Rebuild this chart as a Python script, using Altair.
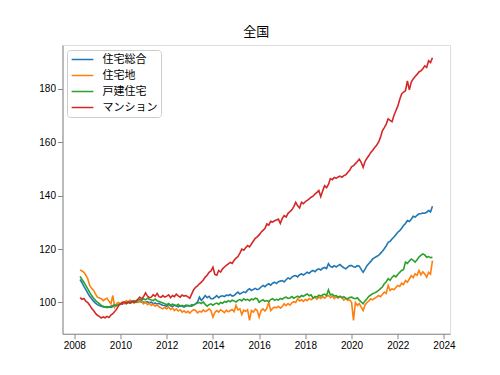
import altair as alt
import pandas as pd

START_YEAR = 2008
START_MONTH = 4

series_names = ["住宅総合", "住宅地", "戸建住宅", "マンション"]
series_colors = ["#1f77b4", "#ff7f0e", "#2ca02c", "#d62728"]

sogo = [
    108.6, 107.4, 106.0, 104.8, 103.5, 102.3, 101.4, 100.5, 99.8,
    99.2, 98.9, 98.6, 98.3, 98.4, 98.1, 98.3, 98.2, 98.5, 98.6, 98.9, 99.2,
    99.5, 99.4, 99.9, 99.6, 100.0, 99.8, 100.1, 100.3, 100.0, 100.2, 100.4, 100.1,
    100.2, 100.0, 100.3, 99.9, 100.1, 99.6, 99.8, 99.4, 99.7, 99.2, 99.0, 98.9,
    98.6, 99.3, 98.8, 98.5, 99.0, 98.7, 98.4, 98.8, 98.6, 98.3, 98.7, 98.9,
    98.8, 98.6, 99.1, 99.5, 100.2, 102.0, 100.8, 101.6, 102.6, 101.8, 102.3, 101.4,
    101.4, 101.9, 102.6, 101.8, 102.3, 102.5, 102.2, 102.8, 102.6, 103.0, 102.4, 102.6,
    103.3, 103.9, 103.2, 103.6, 104.0, 103.7, 104.6, 105.1, 104.5, 104.9, 105.3, 104.8,
    105.1, 105.8, 106.4, 105.9, 106.6, 107.0, 106.5, 107.2, 107.6, 107.1, 107.8, 108.0,
    108.2, 107.7, 108.5, 109.2, 108.8, 109.5, 109.9, 110.1, 109.6, 110.4, 110.7, 110.3,
    110.8, 111.3, 110.9, 111.6, 112.0, 111.5, 112.3, 112.6, 112.2, 112.8, 113.1, 112.7,
    114.5, 113.5, 113.2, 113.8, 113.3, 113.8, 114.2, 113.5, 113.0, 112.6, 113.2, 113.8,
    113.8, 113.4, 113.2, 113.8, 113.6, 112.4, 111.3, 112.5, 113.8, 114.6, 115.4, 116.3,
    116.8, 117.2, 117.6, 118.4, 119.2, 120.1, 121.2, 122.5, 122.9, 123.8, 124.5, 125.4,
    126.3, 126.9, 127.8, 128.8, 129.6, 130.7, 130.3, 131.2, 132.3, 132.0, 132.6, 133.2,
    133.2, 133.5, 133.4, 133.8, 134.4, 133.9, 136.0,
]

jutakuchi = [
    112.2, 111.8, 111.3, 110.2, 108.9, 106.4, 105.3, 104.5, 103.2,
    102.0, 101.7, 101.4, 100.7, 101.2, 101.6, 100.5, 99.5, 102.6, 98.3, 99.6, 100.0,
    99.4, 100.2, 99.6, 100.7, 100.1, 100.9, 100.3, 99.8, 100.5, 100.0, 100.6, 100.2,
    99.5, 100.1, 99.2, 99.7, 98.9, 99.4, 98.6, 99.1, 98.4, 98.0, 97.6, 98.2,
    97.6, 98.3, 97.4, 97.9, 97.0, 97.6, 96.8, 97.3, 96.4, 96.9, 96.2, 96.7,
    96.0, 96.8, 97.3, 97.0, 96.1, 96.7, 96.4, 97.2, 96.6, 97.0, 97.6, 96.9,
    94.5, 96.3, 97.0, 96.4, 97.3, 96.8, 96.2, 97.1, 96.5, 97.0, 97.4, 96.6,
    98.9, 97.2, 97.6, 95.5, 97.1, 96.7, 97.3, 93.3, 97.0, 96.4, 97.5, 97.0,
    94.5, 97.0, 97.6, 96.8, 97.8, 100.1, 97.0, 97.8, 98.3, 98.0, 98.6, 97.9,
    98.5, 99.5, 98.8, 99.6, 99.0, 99.9, 100.3, 100.0, 101.4, 100.6, 101.0, 100.4,
    101.2, 100.7, 101.5, 101.0, 101.6, 102.0, 101.3, 102.0, 101.5, 102.2, 101.6, 102.3,
    102.6, 101.8, 102.4, 101.5, 102.1, 101.6, 102.3, 101.8, 100.9, 101.5, 100.8, 101.0,
    100.1, 93.3, 100.0, 98.9, 99.6, 98.3, 97.0, 99.1, 100.0, 100.6, 101.4, 101.0,
    101.6, 102.0, 102.6, 102.2, 103.0, 103.9, 103.4, 106.4, 104.5, 105.1, 104.8, 105.6,
    106.4, 106.0, 107.2, 106.7, 108.2, 107.6, 108.8, 110.1, 109.3, 110.7, 110.2, 112.0,
    110.4, 111.5, 110.7, 109.5, 111.3, 110.6, 115.7,
]

kodate = [
    109.8, 108.6, 107.6, 106.3, 105.1, 103.8, 102.6, 101.6, 100.8,
    100.1, 99.6, 98.9, 98.6, 98.3, 98.5, 98.3, 98.6, 98.9, 99.1, 98.8, 99.2,
    99.6, 99.9, 100.1, 99.8, 100.3, 100.0, 100.5, 100.7, 100.2, 100.9, 101.1, 100.8,
    101.4, 101.0, 101.6, 101.2, 100.9, 100.7, 101.3, 100.6, 100.4, 100.1, 99.8, 99.5,
    99.2, 99.6, 99.0, 99.4, 99.1, 98.8, 99.3, 98.6, 98.9, 98.6, 99.0, 98.8,
    98.6, 99.2, 99.0, 99.5, 99.8, 100.0, 99.6, 100.2, 99.3, 98.6, 99.2, 99.5,
    99.0, 99.5, 99.8, 99.3, 100.0, 99.7, 100.4, 100.1, 100.7, 100.3, 100.9, 100.6,
    100.2, 100.8, 101.1, 100.6, 101.4, 100.9, 101.2, 100.7, 101.3, 101.0, 101.6, 101.4,
    100.1, 100.6, 101.0, 100.4, 100.7, 100.3, 101.1, 101.4, 100.8, 101.2, 100.9, 101.5,
    101.2, 101.8, 102.0, 101.5, 101.7, 102.2, 101.6, 102.0, 102.4, 101.9, 102.6, 102.3,
    102.8, 103.2, 102.5, 102.9, 101.6, 102.3, 102.0, 102.7, 102.4, 102.9, 103.1, 102.6,
    104.7, 102.8, 103.1, 102.4, 102.6, 102.0, 102.3, 101.8, 102.2, 101.6, 101.4, 101.9,
    102.0, 101.6, 101.4, 101.8, 100.9, 100.2, 99.5, 100.6, 101.4, 102.3, 102.8, 103.3,
    103.6, 104.0, 104.5, 105.2, 105.8, 107.0, 107.8, 108.9, 108.3, 109.4, 110.1, 109.6,
    110.5, 111.3, 112.0, 112.4, 115.1, 114.6, 115.5, 116.3, 115.8, 115.1, 116.0, 117.0,
    117.6, 118.2, 117.8, 116.9, 117.2, 116.8, 116.9,
]

mansion = [
    101.8, 101.2, 101.5, 100.5, 100.0, 99.0, 97.8, 97.0, 96.0,
    95.2, 94.8, 94.2, 94.6, 94.3, 94.8, 94.4, 95.3, 95.8, 96.6, 97.5, 98.8,
    99.5, 99.8, 100.2, 99.6, 100.3, 99.8, 100.4, 100.0, 100.5, 101.2, 102.0, 101.4,
    102.2, 103.6, 102.4, 101.8, 102.0, 102.9, 102.3, 103.4, 102.2, 101.9, 102.6, 102.0,
    102.4, 102.9, 101.8, 102.6, 102.2, 103.1, 102.5, 102.0, 102.8, 102.4, 102.6, 102.1,
    101.6, 103.2, 104.8, 105.7, 106.2, 107.0, 107.6, 108.4, 109.5, 110.2, 111.3, 111.8,
    113.2, 110.5, 110.2, 112.0, 111.4, 112.6, 113.3, 113.9, 114.5, 115.0, 114.6, 115.8,
    116.6, 117.2, 118.5, 120.0, 119.6, 120.5, 121.3, 120.8, 121.9, 123.0, 124.0, 124.6,
    125.3, 126.3, 127.0, 127.7, 129.4, 129.0, 130.4, 130.1, 130.6, 130.9, 131.2, 129.6,
    131.5, 132.5, 132.0, 133.4, 134.0, 134.7, 135.9, 137.5, 136.2, 135.4, 137.5, 137.0,
    137.8, 138.2, 138.8, 139.4, 139.8, 140.6, 141.2, 141.9, 139.6, 141.8, 143.7, 143.0,
    144.2, 146.4, 146.0, 146.8, 146.5, 147.0, 147.3, 146.9, 147.5, 147.8, 148.7, 149.5,
    150.8, 151.2, 152.0, 152.8, 153.7, 152.5, 150.6, 152.8, 154.0, 155.0, 156.2, 157.0,
    158.0, 158.9, 160.0, 161.8, 164.3, 165.5, 166.8, 168.8, 168.2, 167.7, 170.0, 171.8,
    173.5, 176.0, 178.1, 178.8, 179.3, 183.0, 179.6, 182.5, 183.7, 184.6, 185.4, 186.3,
    186.7, 187.5, 188.6, 188.0, 190.5, 189.8, 191.6,
]

x_ticks = [2008, 2010, 2012, 2014, 2016, 2018, 2020, 2022, 2024]
y_ticks = [100, 120, 140, 160, 180]

rows = []
for name, vals in zip(series_names, [sogo, jutakuchi, kodate, mansion]):
    for i, v in enumerate(vals):
        m = START_MONTH - 1 + i
        rows.append({"t": START_YEAR + m // 12 + (m % 12) / 12.0, "v": v, "s": name})
df = pd.DataFrame(rows)

FONT = "Noto Sans CJK JP"

chart = (
    alt.Chart(df)
    .mark_line(strokeWidth=1.6, clip=True)
    .encode(
        x=alt.X(
            "t:Q",
            scale=alt.Scale(domain=[2007.49, 2024.26], nice=False, zero=False),
            axis=alt.Axis(values=x_ticks, format="d", title=None, grid=False),
        ),
        y=alt.Y(
            "v:Q",
            scale=alt.Scale(domain=[88.3, 196.4], nice=False, zero=False),
            axis=alt.Axis(values=y_ticks, format="d", title=None, grid=False),
        ),
        color=alt.Color(
            "s:N",
            scale=alt.Scale(domain=series_names, range=series_colors),
            sort=series_names,
            legend=alt.Legend(
                title=None,
                orient="none",
                legendX=4.5,
                legendY=5,
                symbolType="stroke",
                symbolSize=470,
                symbolStrokeWidth=1.6,
                labelFontSize=11,
                labelFont=FONT,
                labelColor="black",
                labelOffset=8,
                clipHeight=12,
                rowPadding=4,
                padding=3.5,
                fillColor="white",
                strokeColor="#cccccc",
                cornerRadius=3,
            ),
        ),
        order=alt.Order("t:Q"),
    )
    .properties(
        width=387.5,
        height=288.75,
        title=alt.TitleParams("全国", fontSize=13, font=FONT, fontWeight="normal", offset=6),
        autosize=alt.AutoSizeParams(type="none"),
        padding={"left": 54.5, "top": 37, "right": 34, "bottom": 30},
    )
    .configure_view(stroke="black", strokeWidth=0.9)
    .configure_axis(
        domainColor="black",
        domainWidth=0.9,
        tickColor="black",
        tickWidth=0.9,
        tickSize=3.8,
        labelPadding=3.8,
        labelFontSize=10.8,
        labelFont=FONT,
        labelColor="black",
    )
    .configure(background="white")
)

chart.save("out.html", embed_options={"renderer": "svg", "actions": False})
